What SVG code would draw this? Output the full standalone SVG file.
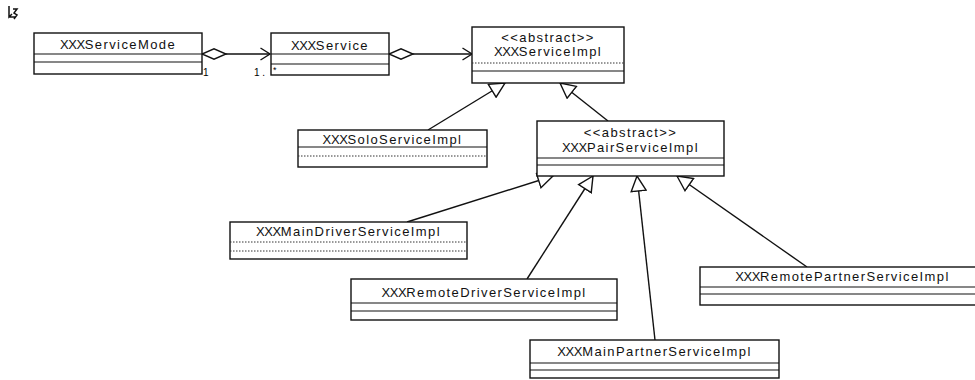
<svg xmlns="http://www.w3.org/2000/svg" width="975" height="380" viewBox="0 0 975 380">
<style>
  .box { fill: #fff; stroke: #111; stroke-width: 1.4; }
  .div { stroke: #111; stroke-width: 1.2; }
  .dot { stroke: #333; stroke-width: 1; stroke-dasharray: 1.5 1.5; }
  .name { font-family: "Liberation Sans", Arial, sans-serif; font-size: 13px; letter-spacing: 1.4px; fill: #111; text-anchor: middle; }
  .x { letter-spacing: -0.4px; }
  .lbl { font-family: "Liberation Sans", Arial, sans-serif; font-size: 10px; fill: #000; }
  .conn { fill: none; stroke: #111; stroke-width: 1.4; }
</style>
<defs>
  <marker id="tri" viewBox="0 0 17 17" refX="16" refY="8.5" markerWidth="17" markerHeight="17" orient="auto" markerUnits="userSpaceOnUse">
    <path d="M1,1 L16,8.5 L1,16 z" fill="#fff" stroke="#111" stroke-width="1.4"/>
  </marker>
  <marker id="open" viewBox="0 0 12 14" refX="10.5" refY="7" markerWidth="12" markerHeight="14" orient="auto" markerUnits="userSpaceOnUse">
    <path d="M1,1 L10.5,7 L1,13" fill="none" stroke="#111" stroke-width="1.4"/>
  </marker>
  <marker id="dia" viewBox="0 0 26 12" refX="0.5" refY="6" markerWidth="26" markerHeight="12" orient="auto" markerUnits="userSpaceOnUse">
    <path d="M0.5,6 L12.5,0.8 L24.5,6 L12.5,11.2 z" fill="#fff" stroke="#111" stroke-width="1.4"/>
  </marker>
</defs>

<!-- cursor icon -->
<path d="M9,6 L9,17 L12,14 M9,17 L16,17 M13,9 L17,9 L14,13 L17,15 L14,19" fill="none" stroke="#111" stroke-width="1.5"/>

<g id="connectors">
  <path class="conn" d="M202,54 L270,54" marker-start="url(#dia)" marker-end="url(#open)"/>
  <path class="conn" d="M389,54 L472,54" marker-start="url(#dia)" marker-end="url(#open)"/>
  <path class="conn" d="M428,130 L505,83" marker-end="url(#tri)"/>
  <path class="conn" d="M608,121 L560,83" marker-end="url(#tri)"/>
  <path class="conn" d="M407,222 L553,176" marker-end="url(#tri)"/>
  <path class="conn" d="M527,279 L593,176" marker-end="url(#tri)"/>
  <path class="conn" d="M655,340 L637,176" marker-end="url(#tri)"/>
  <path class="conn" d="M807,267 L677,176" marker-end="url(#tri)"/>
</g>

<g id="XXXServiceMode">
  <rect class="box" x="34" y="33" width="168" height="41"/>
  <line class="div" x1="34" y1="54" x2="202" y2="54"/>
  <line class="div" x1="34" y1="62" x2="202" y2="62"/>
  <text class="name" x="118" y="49"><tspan class="x">XXX</tspan>ServiceMode</text>
</g>

<g id="XXXService">
  <rect class="box" x="271" y="33" width="118" height="42"/>
  <line class="div" x1="271" y1="54" x2="389" y2="54"/>
  <line class="div" x1="271" y1="64" x2="389" y2="64"/>
  <text class="name" x="330" y="50"><tspan class="x">XXX</tspan>Service</text>
</g>

<g id="XXXServiceImpl">
  <rect class="box" x="472" y="27" width="152" height="56"/>
  <line class="dot" x1="472" y1="63" x2="624" y2="63"/>
  <line class="div" x1="472" y1="71" x2="624" y2="71"/>
  <text class="name" x="548" y="42">&lt;&lt;abstract&gt;&gt;</text>
  <text class="name" x="548" y="56"><tspan class="x">XXX</tspan>ServiceImpl</text>
</g>

<g id="XXXSoloServiceImpl">
  <rect class="box" x="298" y="130" width="189" height="37"/>
  <line class="div" x1="298" y1="147" x2="487" y2="147"/>
  <line class="dot" x1="298" y1="156" x2="487" y2="156"/>
  <text class="name" x="392.5" y="144"><tspan class="x">XXX</tspan>SoloServiceImpl</text>
</g>

<g id="XXXPairServiceImpl">
  <rect class="box" x="537" y="121" width="187" height="55"/>
  <line class="div" x1="537" y1="158" x2="724" y2="158"/>
  <line class="div" x1="537" y1="165" x2="724" y2="165"/>
  <text class="name" x="630.5" y="137">&lt;&lt;abstract&gt;&gt;</text>
  <text class="name" x="630.5" y="152"><tspan class="x">XXX</tspan>PairServiceImpl</text>
</g>

<g id="XXXMainDriverServiceImpl">
  <rect class="box" x="230" y="222" width="237" height="37"/>
  <line class="dot" x1="230" y1="242" x2="467" y2="242"/>
  <line class="dot" x1="230" y1="251" x2="467" y2="251"/>
  <text class="name" x="348.5" y="236"><tspan class="x">XXX</tspan>MainDriverServiceImpl</text>
</g>

<g id="XXXRemoteDriverServiceImpl">
  <rect class="box" x="351" y="279" width="266" height="41"/>
  <line class="div" x1="351" y1="303" x2="617" y2="303"/>
  <line class="div" x1="351" y1="311" x2="617" y2="311"/>
  <text class="name" x="484" y="297"><tspan class="x">XXX</tspan>RemoteDriverServiceImpl</text>
</g>

<g id="XXXRemotePartnerServiceImpl">
  <rect class="box" x="700" y="267" width="286" height="38"/>
  <line class="div" x1="700" y1="287" x2="986" y2="287"/>
  <line class="div" x1="700" y1="294" x2="986" y2="294"/>
  <text class="name" x="842.5" y="281"><tspan class="x">XXX</tspan>RemotePartnerServiceImpl</text>
</g>

<g id="XXXMainPartnerServiceImpl">
  <rect class="box" x="530" y="340" width="249" height="38"/>
  <line class="div" x1="530" y1="363" x2="779" y2="363"/>
  <line class="div" x1="530" y1="370" x2="779" y2="370"/>
  <text class="name" x="654.5" y="356"><tspan class="x">XXX</tspan>MainPartnerServiceImpl</text>
</g>

<g id="multiplicities">
  <text class="lbl" x="203" y="76">1</text>
  <text class="lbl" x="254" y="76">1 .</text>
  <text class="lbl" x="273" y="73" style="font-size:9px">*</text>
</g>
</svg>
